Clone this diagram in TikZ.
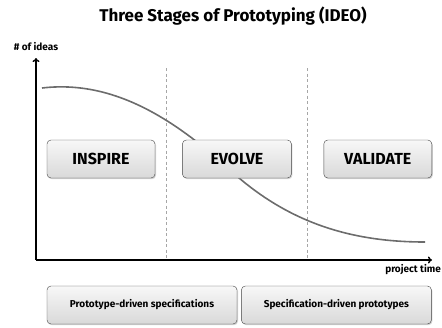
\documentclass[tikz,border=0pt]{standalone}
\usepackage{fontspec}
\setmainfont{Fira Sans}
\usetikzlibrary{positioning,shadows,arrows.meta}

\tikzset{
  stagebox/.style={draw=gray!55!black, rounded corners=4pt, top color=gray!6, bottom color=gray!30,
    drop shadow={opacity=0.35, shadow xshift=1pt, shadow yshift=-1.2pt},
    minimum height=38pt, font=\bfseries\fontsize{16}{18}\selectfont},
  notebox/.style={stagebox, minimum width=190pt, font=\bfseries\fontsize{10}{12}\selectfont},
  axislabel/.style={font=\bfseries\fontsize{10}{11}\selectfont, inner sep=1pt}
}

\begin{document}
\begin{tikzpicture}[x=1pt, y=-1pt]
		\useasboundingbox (0,0) rectangle (442,327);
		\node (title) at (233,16) {\bfseries\fontsize{17}{19}\selectfont Three Stages of Prototyping (IDEO)};
		% axes
		\coordinate (origin) at (36,260);
		\coordinate (ytip) at (36,58);
		\coordinate (xtip) at (432,260);
		\draw[line width=1.4pt, -{To[length=4pt,width=7pt]}] (origin) -- (ytip);
		\draw[line width=1.4pt, -{To[length=4pt,width=7pt]}] (origin) -- (xtip);
		\node[axislabel] (ideas) at (36,47) {\# of ideas};
		\node[axislabel, anchor=east] (time) at (442,270) {project time};
		\foreach \x in {166,307} % stage borders
		\draw[gray!70, dash pattern=on 3pt off 2.5pt] (\x,68) -- (\x,259);
		% number of ideas over time
		\draw[gray!85!black, line width=1.6pt] (42,88) .. controls (110,80) and (170,115) .. (230,170)
		  .. controls (290,225) and (355,242) .. (425,242);
		% stages
		\node[stagebox, minimum width=108pt] (inspire) at (101,159) {INSPIRE};
		\node[stagebox, minimum width=109pt, right=27pt of inspire] (evolve) {EVOLVE};
		\node[stagebox, minimum width=108pt, right=32pt of evolve] (validate) {VALIDATE};
		\node[notebox] (specs) at (142,305) {Prototype-driven specifications};
		\node[notebox, right=4pt of specs] (protos) {Specification-driven prototypes};
	\end{tikzpicture}
\end{document}
